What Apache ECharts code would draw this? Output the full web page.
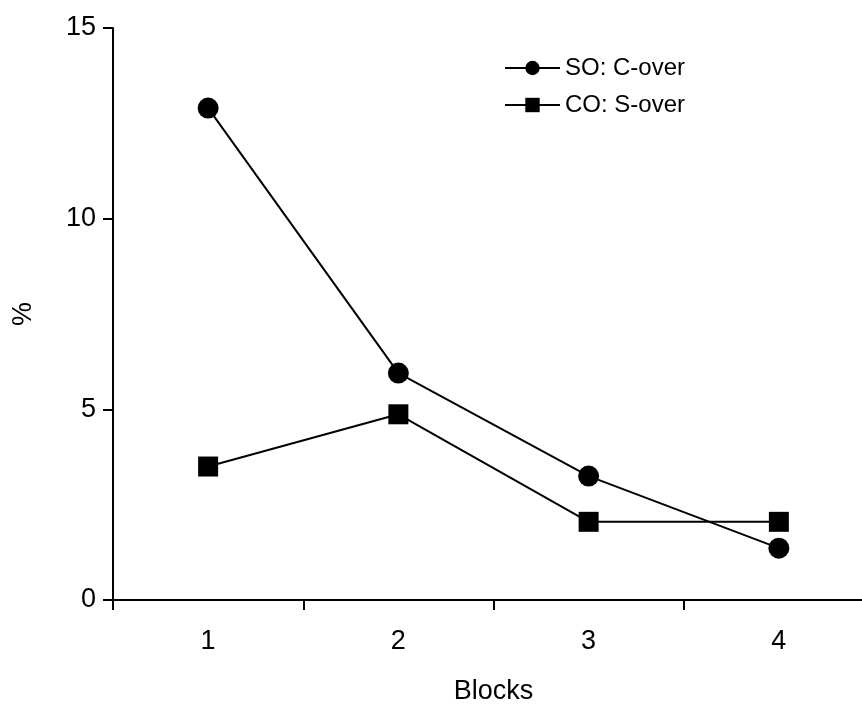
<!DOCTYPE html>
<html>
<head>
<meta charset="utf-8">
<script src="https://cdn.jsdelivr.net/npm/echarts@6/dist/echarts.min.js"></script>
<style>
html,body{margin:0;padding:0;background:#fff;}
#chart{width:862px;height:705px;}
</style>
</head>
<body>
<div id="chart"></div>
<script>
var categories = ['1', '2', '3', '4'];
var soCover = [12.9, 5.95, 3.25, 1.36];
var coSover = [3.5, 4.87, 2.05, 2.05];
var yTicks = [0, 5, 10, 15];

var chart = echarts.init(document.getElementById('chart'), null, {renderer: 'canvas'});
var font = 'Liberation Sans, Arial, sans-serif';
chart.setOption({
  animation: false,
  backgroundColor: '#fff',
  grid: {left: 113, top: 28, bottom: 105, right: -12, containLabel: false, outerBoundsMode: 'none'},
  legend: {
    orient: 'vertical',
    left: 499,
    top: 51,
    itemWidth: 55,
    itemHeight: 18,
    itemGap: 13,
    lineStyle: {width: 2},
    textStyle: {fontFamily: font, fontSize: 24, color: '#000'},
    data: ['SO: C-over', 'CO: S-over']
  },
  xAxis: {
    type: 'category',
    data: categories,
    boundaryGap: true,
    name: 'Blocks',
    nameLocation: 'middle',
    nameGap: 78,
    nameTextStyle: {fontFamily: font, fontSize: 27, color: '#000'},
    axisLine: {lineStyle: {color: '#000', width: 2}},
    axisTick: {show: true, length: 10, lineStyle: {color: '#000', width: 2}, alignWithLabel: false},
    axisLabel: {margin: 28, fontFamily: font, fontSize: 27, color: '#000'},
    splitLine: {show: false}
  },
  yAxis: {
    type: 'value',
    min: 0, max: 15, interval: 5,
    name: '%',
    nameLocation: 'middle',
    nameGap: 76,
    nameTextStyle: {fontFamily: font, fontSize: 27, color: '#000'},
    axisLine: {show: true, lineStyle: {color: '#000', width: 2}},
    axisTick: {show: true, length: 10, lineStyle: {color: '#000', width: 2}},
    axisLabel: {margin: 17, fontFamily: font, fontSize: 27, color: '#000',
      formatter: function (v) { return yTicks.indexOf(v) >= 0 ? String(v) : ''; }},
    splitLine: {show: false}
  },
  series: [
    {
      name: 'SO: C-over', type: 'line', data: soCover,
      symbol: 'circle', symbolSize: 21,
      lineStyle: {color: '#000', width: 2},
      itemStyle: {color: '#000'}
    },
    {
      name: 'CO: S-over', type: 'line', data: coSover,
      symbol: 'rect', symbolSize: 20,
      lineStyle: {color: '#000', width: 2},
      itemStyle: {color: '#000'}
    }
  ]
});
</script>
</body>
</html>
